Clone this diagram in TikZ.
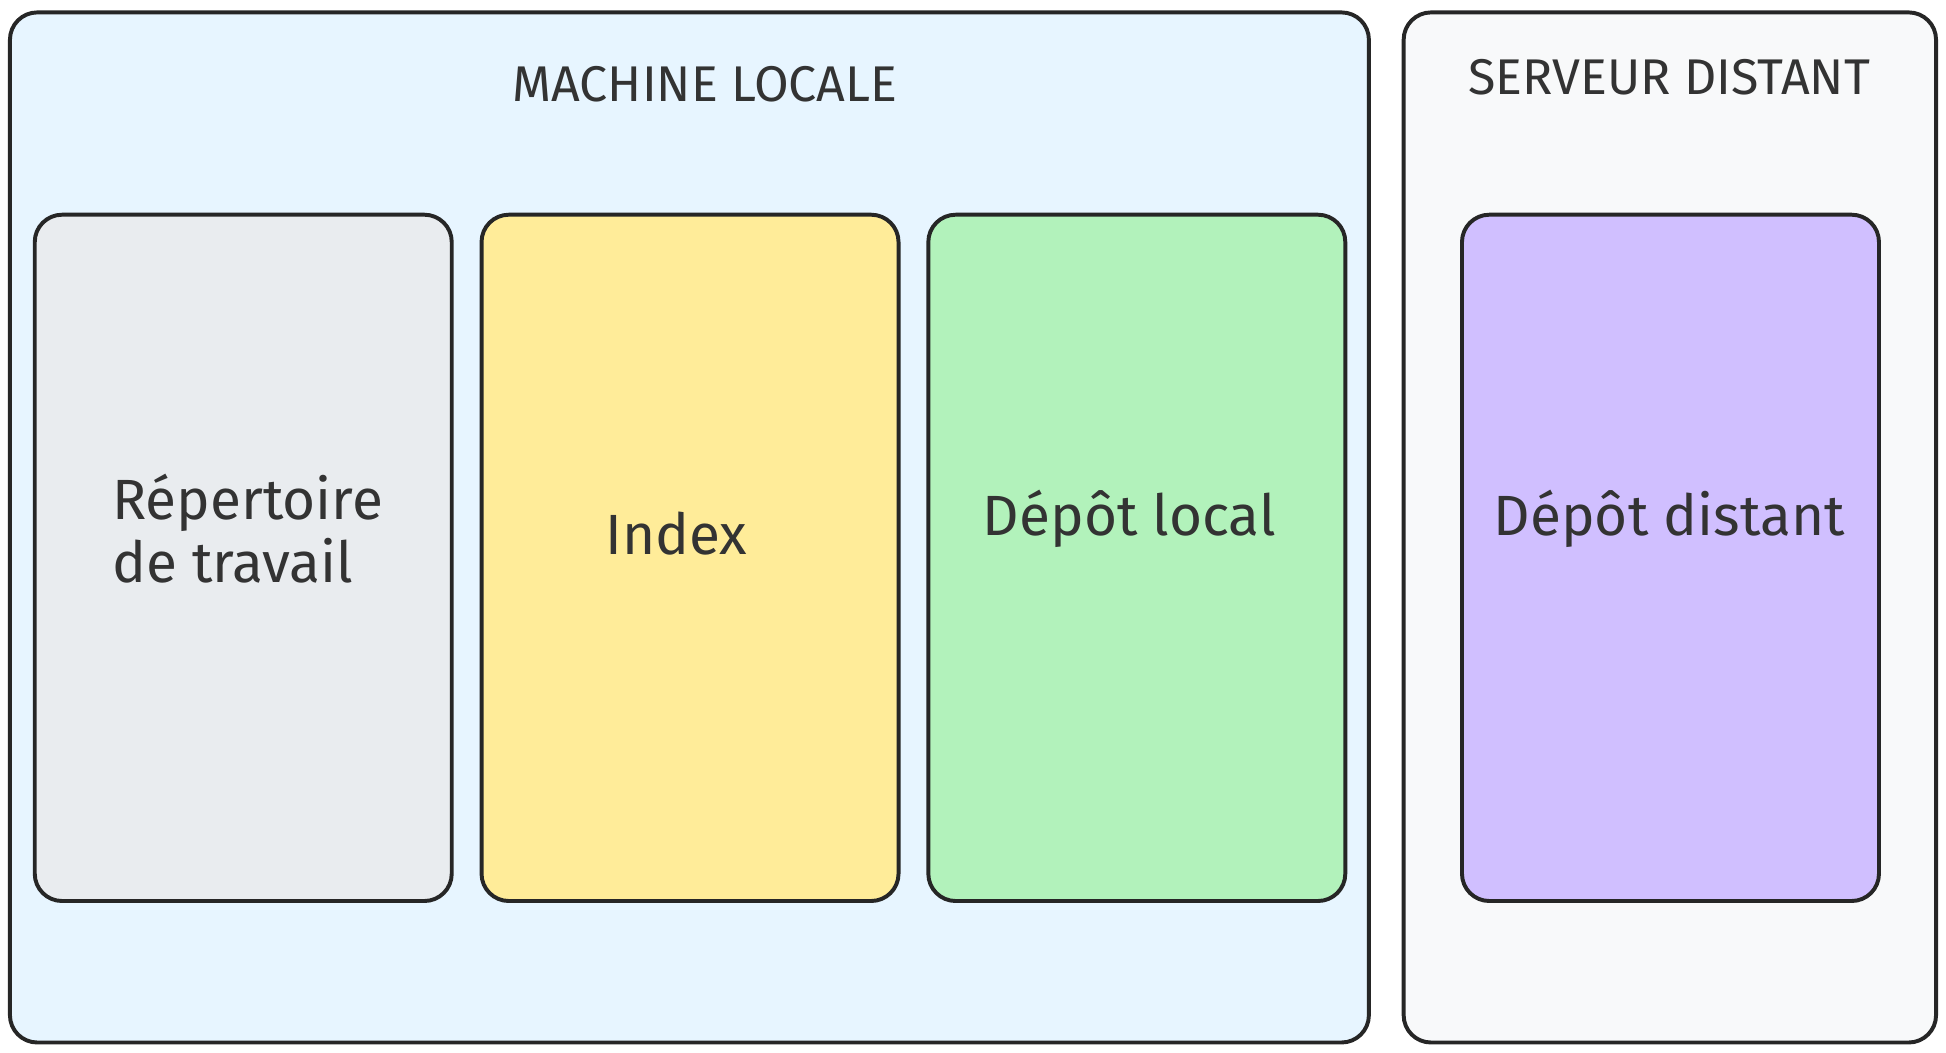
\documentclass[tikz,border=0pt]{standalone}
\usepackage{fontspec}
\setmainfont{Fira Sans}
\begin{document}
\begin{tikzpicture}[x=0.01cm,y=-0.01cm,
  box/.style={draw=black!85,line width=0.9pt,rounded corners=0.22cm},
  lbl/.style={font=\fontsize{13pt}{14.5pt}\selectfont,text=black!80},
  ttl/.style={font=\fontsize{11.5pt}{14pt}\selectfont,text=black!80}]
\useasboundingbox (0,0) rectangle (1568,848);
\definecolor{cblue}{HTML}{E7F5FF}\definecolor{cgrey}{HTML}{E9ECEF}
\definecolor{cyel}{HTML}{FFEC99}\definecolor{cgreen}{HTML}{B2F2BB}
\definecolor{cpur}{HTML}{D0BFFF}\definecolor{cwhite}{HTML}{F8F9FA}
\path[box,fill=cblue] (8,10) rectangle (1103,840);
\path[box,fill=cwhite] (1131,10) rectangle (1560,840);
\path[box,fill=cgrey] (28,173) rectangle (364,726);
\path[box,fill=cyel] (388,173) rectangle (724,726);
\path[box,fill=cgreen] (748,173) rectangle (1084,726);
\path[box,fill=cpur] (1178,173) rectangle (1514,726);
\node[ttl] (t1) at (568,68) {MACHINE LOCALE};
\node[ttl] (t2) at (1345,62) {SERVEUR DISTANT};
\node[lbl,align=left,anchor=west] (r) at (78,426) {Répertoire\\de travail};
\node[lbl] (i) at (545,430) {Index};
\node[lbl] (d) at (910,418) {Dépôt local};
\node[lbl] (dd) at (1345,418) {Dépôt distant};
\end{tikzpicture}
\end{document}
